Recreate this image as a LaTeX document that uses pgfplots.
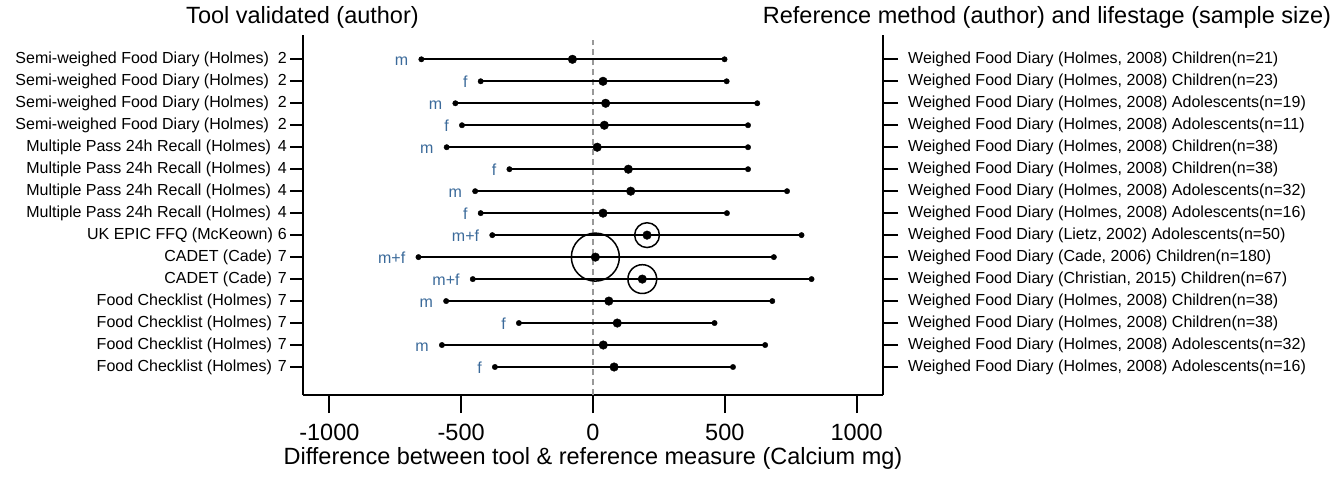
\documentclass[border=0pt]{standalone}
\usepackage{pgfplots}
\pgfplotsset{compat=1.18}
\usepackage{pgfplotstable}
\usepackage{fontspec}
\setmainfont{Liberation Sans}

\definecolor{labblue}{HTML}{3B6A9A}
\definecolor{zerogray}{HTML}{999999}

\newcommand{\lblfont}{\fontsize{16bp}{19bp}\selectfont}
\newcommand{\bigfont}{\fontsize{23.5bp}{28bp}\selectfont}

% Bland-Altman limits of agreement and mean difference (Calcium, mg),
% one line per comparison; row 15 is the top line
\pgfplotstableread{
row lo mean hi sex
15 -651 -78 499 m
14 -426 38 507 f
13 -522 48 623 m
12 -497 43 588 f
11 -555 16 588 m
10 -317 134 588 f
9 -447 143 736 m
8 -426 38 508 f
7 -382 205 791 m+f
6 -662 9 686 m+f
5 -456 187 829 m+f
4 -557 60 680 m
3 -281 92 461 f
2 -573 39 653 m
1 -372 80 531 f
}\bland

\pgfplotsset{
  panel/.style={
    scale only axis, width=580bp, height=360bp,
    xmin=-1100, xmax=1100, ymin=-0.274, ymax=16.106,
    at={(303bp,-395bp)}, anchor=south west,
    tick align=outside,
    axis line style={line width=1.8bp, black},
    every tick/.style={black, line width=1.8bp},
  },
}

\begin{document}
\begin{tikzpicture}
\useasboundingbox (0,0) rectangle (1340bp,-477bp);

% x axis and the plotted data
\begin{axis}[panel,
  axis y line=none, axis x line*=bottom,
  major tick length=18bp,
  xtick={-1000,-500,0,500,1000},
  xticklabels={-1000,-500,0,500,1000},
  x tick label style={font=\bigfont, yshift=-8bp},
  ytick=\empty,
  xlabel={Difference between tool \& reference measure (Calcium mg)},
  xlabel style={font=\bigfont, yshift=1bp},
]
  % line of no difference
  \addplot[zerogray, line width=1.5bp, dash pattern=on 6bp off 4bp]
    coordinates {(0,-0.274) (0,15.88)};

  % study weights (sample size) as open circles
  \addplot[only marks, mark=o, mark size=12.4bp, mark options={line width=1.5bp}]
    coordinates {(205,7)};
  \addplot[only marks, mark=o, mark size=24bp, mark options={line width=1.5bp}]
    coordinates {(9,6)};
  \addplot[only marks, mark=o, mark size=14.4bp, mark options={line width=1.5bp}]
    coordinates {(187,5)};

  % limits of agreement with mean difference
  \addplot[black, only marks, mark=*, mark size=4.3bp,
    error bars/.cd, x dir=both, x explicit,
    error bar style={line width=1.8bp, black},
    error mark=*, error mark options={mark size=2.7bp, fill=black}]
    table[x=mean, y=row,
          x error plus expr=\thisrow{hi}-\thisrow{mean},
          x error minus expr=\thisrow{mean}-\thisrow{lo}] {\bland};

  % sex of each subgroup
  \addplot[draw=none, mark=none, nodes near coords, point meta=explicit symbolic,
    every node near coord/.style={anchor=base east, inner sep=0pt,
      xshift=-13bp, yshift=-6.5bp, text=labblue, font=\lblfont}]
    table[x=lo, y=row, meta=sex] {\bland};
\end{axis}

% left: tool validated
\begin{axis}[panel,
  axis x line=none, axis y line*=left,
  major tick length=13bp,
  xtick=\empty,
  ytick={1,...,15},
  yticklabels={
    Food Checklist (Holmes)\hspace{6bp}7,
    Food Checklist (Holmes)\hspace{6bp}7,
    Food Checklist (Holmes)\hspace{6bp}7,
    Food Checklist (Holmes)\hspace{6bp}7,
    CADET (Cade)\hspace{6bp}7,
    CADET (Cade)\hspace{6bp}7,
    UK EPIC FFQ (McKeown)\hspace{5bp}6\hspace{-4bp},
    Multiple Pass 24h Recall (Holmes)\hspace{7bp}4\hspace{-7bp},
    Multiple Pass 24h Recall (Holmes)\hspace{7bp}4\hspace{-7bp},
    Multiple Pass 24h Recall (Holmes)\hspace{7bp}4\hspace{-7bp},
    Multiple Pass 24h Recall (Holmes)\hspace{7bp}4\hspace{-7bp},
    Semi-weighed Food Diary (Holmes)\hspace{9bp}2,
    Semi-weighed Food Diary (Holmes)\hspace{9bp}2,
    Semi-weighed Food Diary (Holmes)\hspace{9bp}2,
    Semi-weighed Food Diary (Holmes)\hspace{9bp}2},
  yticklabel style={font=\lblfont, inner sep=0pt, anchor=east, xshift=-3bp},
]
  \addplot[draw=none] coordinates {(0,1)};
\end{axis}

% right: reference method and lifestage
\begin{axis}[panel,
  axis x line=none, axis y line*=right,
  major tick length=15bp,
  xtick=\empty,
  ytick={1,...,15},
  yticklabels={
    {Weighed Food Diary (Holmes, 2008) Adolescents(n=16)},
    {Weighed Food Diary (Holmes, 2008) Adolescents(n=32)},
    {Weighed Food Diary (Holmes, 2008) Children(n=38)},
    {Weighed Food Diary (Holmes, 2008) Children(n=38)},
    {Weighed Food Diary (Christian, 2015) Children(n=67)},
    {Weighed Food Diary (Cade, 2006) Children(n=180)},
    {Weighed Food Diary (Lietz, 2002) Adolescents(n=50)},
    {Weighed Food Diary (Holmes, 2008) Adolescents(n=16)},
    {Weighed Food Diary (Holmes, 2008) Adolescents(n=32)},
    {Weighed Food Diary (Holmes, 2008) Children(n=38)},
    {Weighed Food Diary (Holmes, 2008) Children(n=38)},
    {Weighed Food Diary (Holmes, 2008) Adolescents(n=11)},
    {Weighed Food Diary (Holmes, 2008) Adolescents(n=19)},
    {Weighed Food Diary (Holmes, 2008) Children(n=23)},
    {Weighed Food Diary (Holmes, 2008) Children(n=21)}},
  yticklabel style={font=\lblfont, inner sep=0pt, anchor=west, xshift=10bp},
]
  \addplot[draw=none] coordinates {(0,1)};
\end{axis}

\node[anchor=base, font=\bigfont] at (302.5bp,-23bp) {Tool validated (author)};
\node[anchor=base, font=\bigfont] at (1047bp,-23bp) {Reference method (author) and lifestage (sample size)};
\end{tikzpicture}
\end{document}
